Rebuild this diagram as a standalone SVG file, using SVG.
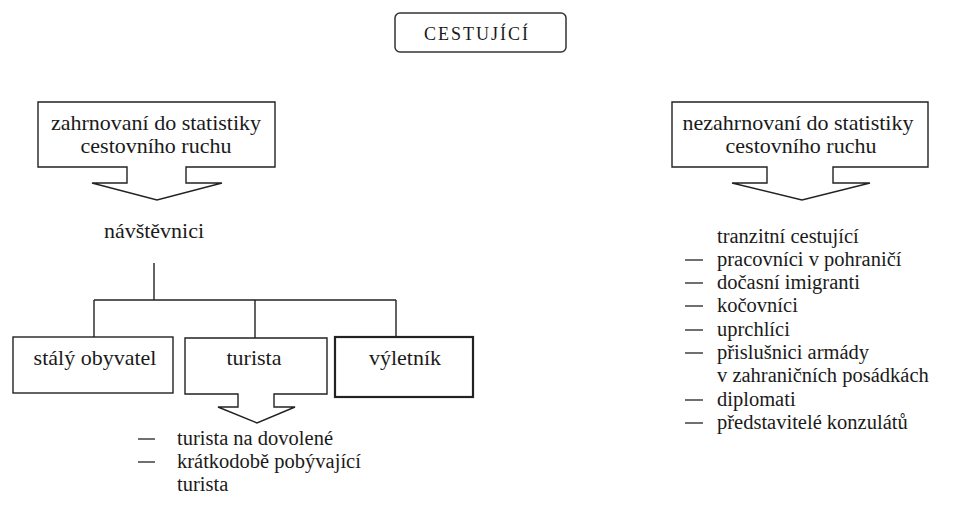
<svg xmlns="http://www.w3.org/2000/svg" width="960" height="510" viewBox="0 0 960 510">
<style>
  .t { font-size: 22px; text-anchor: middle; }
  .l { font-size: 20.5px; }
  .box { fill: #fff; stroke: #222; stroke-width: 1.4; stroke-linejoin: miter; }
  .thick { stroke-width: 2.2; }
  .conn { fill: none; stroke: #222; stroke-width: 1.4; }
  .dash { stroke: #222; stroke-width: 1.3; }
</style>
<rect width="960" height="510" fill="#fff"/>
<g font-family="'Liberation Serif', 'Times New Roman', serif" fill="#1a1a1a">

<g id="cestujici">
  <rect x="395" y="13" width="171" height="39" rx="5" ry="5" fill="#fff" stroke="#333" stroke-width="1.5"/>
  <text x="477" y="40" font-size="18" text-anchor="middle" letter-spacing="2">CESTUJÍCÍ</text>
</g>

<g id="zahrnovani">
  <path class="box" d="M38,102 H275 V167 H186 V183 H222 L157,200 L92,183 H127 V167 H38 Z"/>
  <text class="t" x="156" y="130">zahrnovaní do statistiky</text>
  <text class="t" x="156" y="153">cestovního ruchu</text>
</g>

<g id="nezahrnovani">
  <path class="box" d="M672,102 H928 V167 H833 V183 H870 L802,200 L732,183 H767 V167 H672 Z"/>
  <text class="t" x="798" y="130">nezahrnovaní do statistiky</text>
  <text class="t" x="801" y="153">cestovního ruchu</text>
</g>

<g id="navstevnici">
  <text class="t" x="154" y="238">návštěvnici</text>
</g>

<g id="connectors">
  <path class="conn" d="M154,263 V300"/>
  <path class="conn" d="M94,300 H396"/>
  <path class="conn" d="M94,300 V337"/>
  <path class="conn" d="M255,300 V338"/>
  <path class="conn" d="M396,300 V337"/>
</g>

<g id="staly-obyvatel">
  <rect class="box" x="13" y="337" width="160" height="56"/>
  <text class="t" x="95" y="365">stálý obyvatel</text>
</g>

<g id="turista">
  <path class="box" d="M185,338 H327 V394 H274 V407 H295 L257,423 L218,407 H238 V394 H185 Z"/>
  <text class="t" x="254" y="365">turista</text>
</g>

<g id="vyletnik">
  <rect class="box thick" x="335" y="337" width="138" height="60"/>
  <text class="t" x="405" y="365">výletník</text>
</g>

<g id="turista-list">
  <line class="dash" x1="138" y1="439" x2="155" y2="439"/>
  <text class="l" x="177" y="445">turista na dovolené</text>
  <line class="dash" x1="138" y1="462" x2="155" y2="462"/>
  <text class="l" x="177" y="468">krátkodobě pobývající</text>
  <text class="l" x="177" y="491">turista</text>
</g>

<g id="nezahrnovani-list">
  <text class="l" x="717" y="243">tranzitní cestující</text>
  <line class="dash" x1="685" y1="260" x2="703" y2="260"/>
  <text class="l" x="717" y="266">pracovníci v pohraničí</text>
  <line class="dash" x1="685" y1="283" x2="703" y2="283"/>
  <text class="l" x="717" y="289">dočasní imigranti</text>
  <line class="dash" x1="685" y1="306" x2="703" y2="306"/>
  <text class="l" x="717" y="312">kočovníci</text>
  <line class="dash" x1="685" y1="330" x2="703" y2="330"/>
  <text class="l" x="717" y="336">uprchlíci</text>
  <line class="dash" x1="685" y1="353" x2="703" y2="353"/>
  <text class="l" x="717" y="359">přislušnici armády</text>
  <text class="l" x="717" y="382">v zahraničních posádkách</text>
  <line class="dash" x1="685" y1="400" x2="703" y2="400"/>
  <text class="l" x="717" y="406">diplomati</text>
  <line class="dash" x1="685" y1="423" x2="703" y2="423"/>
  <text class="l" x="717" y="429">představitelé konzulátů</text>
</g>
</g>
</svg>
